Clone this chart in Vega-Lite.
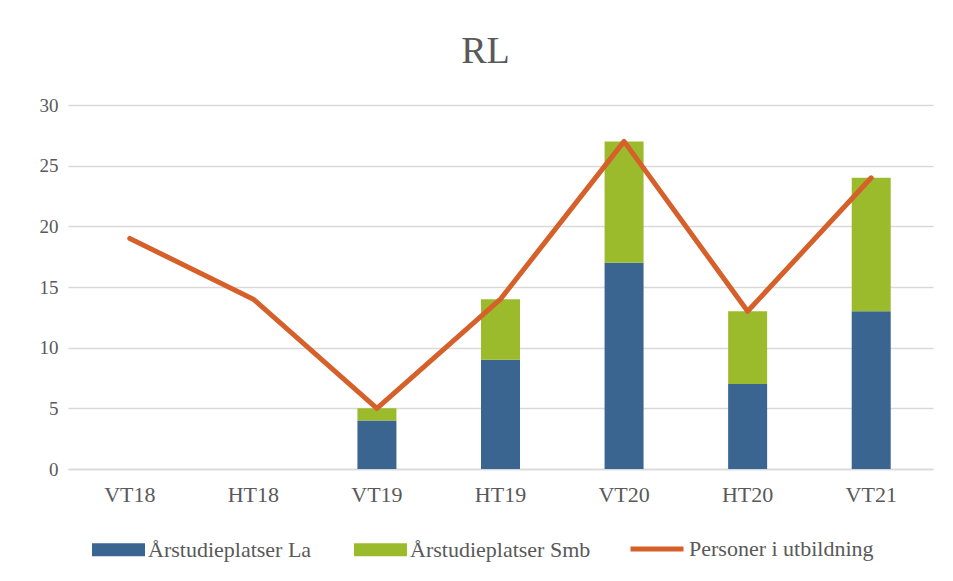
{
  "$schema": "https://vega.github.io/schema/vega-lite/v6.json",
  "width": 865,
  "height": 364,
  "autosize": {"type": "none"},
  "padding": {"left": 68, "top": 105, "right": 20, "bottom": 112},
  "background": "#ffffff",
  "title": {
    "text": "RL",
    "fontSize": 38,
    "font": "Liberation Serif",
    "fontWeight": "normal",
    "color": "#595959",
    "anchor": "middle",
    "dx": -15,
    "offset": 25
  },
  "config": {
    "view": {"stroke": null},
    "font": "Liberation Serif",
    "axis": {
      "labelFont": "Liberation Serif",
      "labelFontSize": 19,
      "labelColor": "#595959",
      "ticks": false,
      "domain": false,
      "gridColor": "#D9D9D9",
      "gridWidth": 1.3,
      "title": null
    },
    "legend": {
      "labelFont": "Liberation Serif",
      "labelFontSize": 22,
      "labelColor": "#595959",
      "labelLimit": 400,
      "title": null
    }
  },
  "data": {
    "values": [
      {"period": "VT18", "serie": "Årstudieplatser La", "value": 0},
      {"period": "VT18", "serie": "Årstudieplatser Smb", "value": 0},
      {"period": "VT18", "serie": "Personer i utbildning", "value": 19},
      {"period": "HT18", "serie": "Årstudieplatser La", "value": 0},
      {"period": "HT18", "serie": "Årstudieplatser Smb", "value": 0},
      {"period": "HT18", "serie": "Personer i utbildning", "value": 14},
      {"period": "VT19", "serie": "Årstudieplatser La", "value": 4},
      {"period": "VT19", "serie": "Årstudieplatser Smb", "value": 1},
      {"period": "VT19", "serie": "Personer i utbildning", "value": 5},
      {"period": "HT19", "serie": "Årstudieplatser La", "value": 9},
      {"period": "HT19", "serie": "Årstudieplatser Smb", "value": 5},
      {"period": "HT19", "serie": "Personer i utbildning", "value": 14},
      {"period": "VT20", "serie": "Årstudieplatser La", "value": 17},
      {"period": "VT20", "serie": "Årstudieplatser Smb", "value": 10},
      {"period": "VT20", "serie": "Personer i utbildning", "value": 27},
      {"period": "HT20", "serie": "Årstudieplatser La", "value": 7},
      {"period": "HT20", "serie": "Årstudieplatser Smb", "value": 6},
      {"period": "HT20", "serie": "Personer i utbildning", "value": 13},
      {"period": "VT21", "serie": "Årstudieplatser La", "value": 13},
      {"period": "VT21", "serie": "Årstudieplatser Smb", "value": 11},
      {"period": "VT21", "serie": "Personer i utbildning", "value": 24}
    ]
  },
  "encoding": {
    "x": {
      "field": "period",
      "type": "nominal",
      "sort": ["VT18", "HT18", "VT19", "HT19", "VT20", "HT20", "VT21"],
      "scale": {"paddingInner": 0, "paddingOuter": 0},
      "axis": {"labelAngle": 0, "labelPadding": 15, "labelFontSize": 22, "grid": false, "domain": true, "domainColor": "#D9D9D9", "domainWidth": 1.3}
    }
  },
  "layer": [
    {
      "transform": [{"filter": "datum.serie !== 'Personer i utbildning'"}],
      "mark": {"type": "bar", "size": 39},
      "encoding": {
        "y": {
          "field": "value",
          "type": "quantitative",
          "stack": "zero",
          "scale": {"domain": [0, 30]},
          "axis": {"values": [0, 5, 10, 15, 20, 25, 30], "labelPadding": 10, "grid": true}
        },
        "color": {
          "field": "serie",
          "type": "nominal",
          "scale": {"domain": ["Årstudieplatser La", "Årstudieplatser Smb"], "range": ["#3A6590", "#9BBB2C"]},
          "legend": {
            "orient": "none",
            "legendX": 24,
            "legendY": 418,
            "direction": "horizontal",
            "symbolType": "M-1,-0.245H1V0.245H-1Z",
            "symbolSize": 2809,
            "symbolStrokeWidth": 0,
            "symbolOpacity": 1,
            "labelOffset": 3,
            "columnPadding": 42
          }
        },
        "order": {"field": "serie", "sort": "ascending"}
      }
    },
    {
      "transform": [{"filter": "datum.serie === 'Personer i utbildning'"}],
      "mark": {"type": "line", "strokeWidth": 5, "strokeCap": "round", "strokeJoin": "round"},
      "encoding": {
        "y": {"field": "value", "type": "quantitative"},
        "stroke": {
          "field": "serie",
          "type": "nominal",
          "scale": {"domain": ["Personer i utbildning"], "range": ["#D5602A"]},
          "legend": {
            "orient": "none",
            "legendX": 560,
            "legendY": 415,
            "symbolType": "stroke",
            "symbolSize": 2809,
            "symbolStrokeWidth": 5,
            "labelOffset": 3
          }
        }
      }
    }
  ]
}
